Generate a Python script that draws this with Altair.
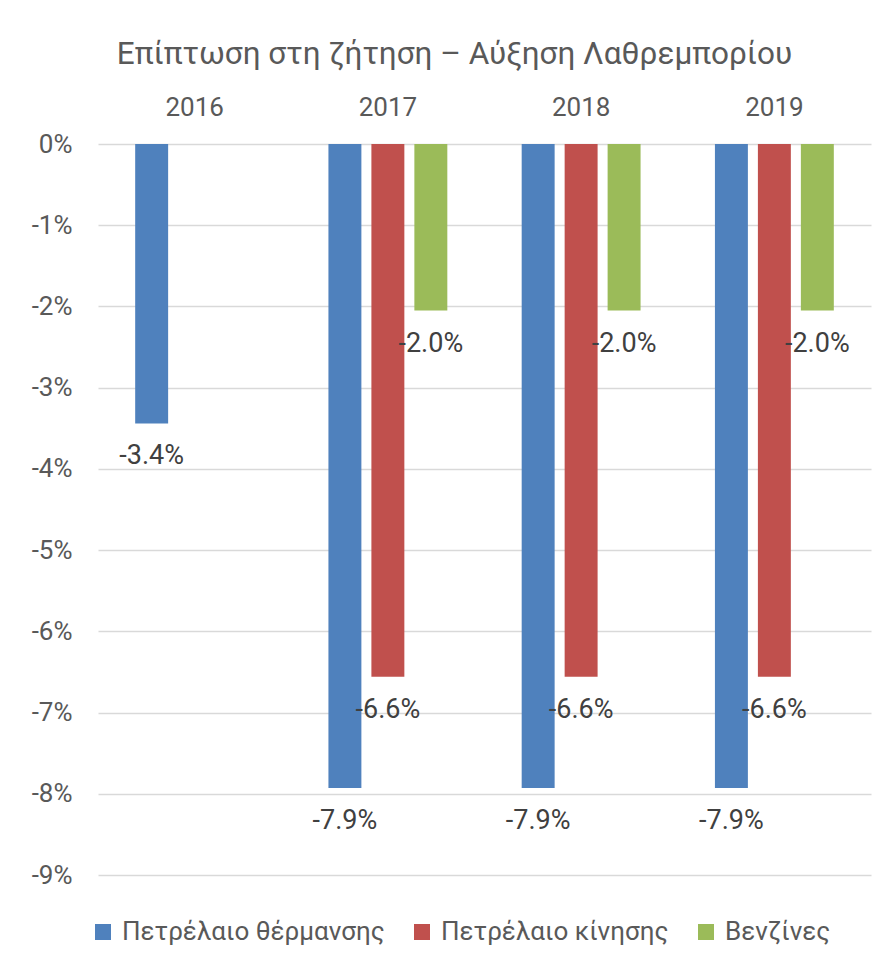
import altair as alt
import pandas as pd

years = ["2016", "2017", "2018", "2019"]
series = ["Πετρέλαιο θέρμανσης", "Πετρέλαιο κίνησης", "Βενζίνες"]
heating = [-3.44, -7.93, -7.93, -7.93]
diesel = [None, -6.56, -6.56, -6.56]
petrol = [None, -2.05, -2.05, -2.05]
heating_lbl = ["-3.4%", "-7.9%", "-7.9%", "-7.9%"]
diesel_lbl = [None, "-6.6%", "-6.6%", "-6.6%"]
petrol_lbl = [None, "-2.0%", "-2.0%", "-2.0%"]
colors = ["#4F81BD", "#C0504D", "#9BBB59"]
title = "Επίπτωση στη ζήτηση – Αύξηση Λαθρεμπορίου"

rows = []
for s, vals, lbls in zip(series, [heating, diesel, petrol], [heating_lbl, diesel_lbl, petrol_lbl]):
    for y, v, l in zip(years, vals, lbls):
        if v is not None:
            rows.append({"year": y, "series": s, "value": v, "label": l})
df = pd.DataFrame(rows)

FONT = "Roboto"
TXT = "#595959"

x = alt.X("year:N", sort=years, scale=alt.Scale(domain=years, paddingInner=0.333, paddingOuter=0.1665),
          axis=alt.Axis(orient="top", title=None, labelAngle=0, ticks=False, domain=False,
                        labelFontSize=26, labelColor=TXT, labelFont=FONT, labelPadding=24))
xo = alt.XOffset("series:N", sort=series, scale=alt.Scale(domain=series, paddingInner=0.233, paddingOuter=0.1165))
y = alt.Y("value:Q", scale=alt.Scale(domain=[-9, 0], nice=False),
          axis=alt.Axis(title=None, values=list(range(-9, 1)), labelExpr="datum.value + '%'",
                        ticks=False, domain=False, grid=True, gridColor="#D9D9D9", gridWidth=1.5,
                        labelFontSize=26, labelColor=TXT, labelFont=FONT, labelPadding=26))
color = alt.Color("series:N", sort=series, scale=alt.Scale(domain=series, range=colors),
                  legend=alt.Legend(title=None, orient="none", direction="horizontal",
                                    legendX=-8, legendY=775, symbolType="square", symbolSize=256,
                                    symbolStrokeWidth=0, labelFontSize=26, labelColor=TXT,
                                    labelFont=FONT, labelOffset=6, columnPadding=24, padding=0,
                                    labelLimit=600))

bars = alt.Chart(df).mark_bar().encode(x=x, xOffset=xo, y=y, color=color)
labels = alt.Chart(df).mark_text(baseline="middle", align="center", dy=33, fontSize=27,
                                  font=FONT, color="#404040").encode(
    x=alt.X("year:N", sort=years), xOffset=alt.XOffset("series:N", sort=series), y="value:Q", text="label:N")

chart = alt.layer(bars, labels).properties(
    width=773, height=731,
    title=alt.TitleParams(title, fontSize=31.5, font=FONT, color=TXT, fontWeight="normal",
                          anchor="middle", dx=-30, offset=24),
    autosize=alt.AutoSizeParams(type="none"),
    padding={"left": 90, "top": 136, "right": 10, "bottom": 87},
).configure_view(stroke=None)

chart.save("out.html", embed_options={"renderer": "svg", "actions": False})
